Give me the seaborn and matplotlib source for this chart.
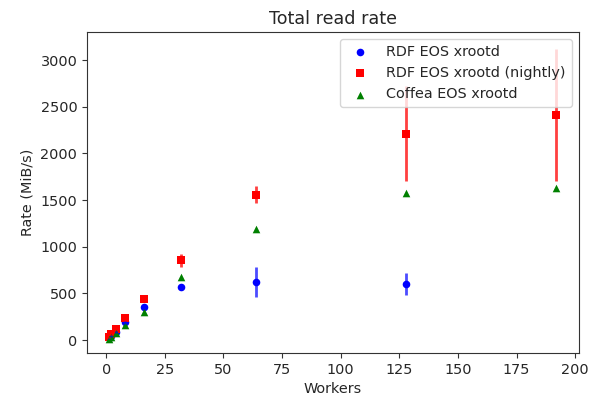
import matplotlib
matplotlib.use("Agg")
import matplotlib.pyplot as plt
import seaborn as sns

workers_rdf = [1, 2, 4, 8, 16, 32, 64, 128]
rate_rdf = [20, 45, 85, 190, 355, 565, 620, 598]
err_rdf = [5, 8, 10, 15, 20, 30, 160, 120]

workers_nightly = [1, 2, 4, 8, 16, 32, 64, 128, 192]
rate_nightly = [32, 60, 117, 234, 436, 855, 1558, 2210, 2412]
err_nightly = [5, 8, 10, 20, 25, 70, 95, 510, 705]

workers_coffea = [1, 2, 4, 8, 16, 32, 64, 128, 192]
rate_coffea = [10, 35, 70, 160, 300, 670, 1185, 1580, 1633]

sns.set_style("ticks")
plt.rcParams['font.family'] = ['DejaVu Sans']
plt.rcParams['font.size'] = 10.4

fig = plt.figure(figsize=(6.16, 3.99), dpi=100)
ax = fig.add_axes([0.1412, 0.1153, 0.7987, 0.8045])

ax.errorbar(workers_rdf, rate_rdf, yerr=err_rdf, fmt='none', ecolor='blue', alpha=0.7, elinewidth=2)
ax.errorbar(workers_nightly, rate_nightly, yerr=err_nightly, fmt='none', ecolor='red', alpha=0.75, elinewidth=2)

sns.scatterplot(x=workers_rdf, y=rate_rdf, color='blue', marker='o', s=30, linewidth=0, label='RDF EOS xrootd', ax=ax)
sns.scatterplot(x=workers_nightly, y=rate_nightly, color='red', marker='s', s=30, linewidth=0, label='RDF EOS xrootd (nightly)', ax=ax)
sns.scatterplot(x=workers_coffea, y=rate_coffea, color='green', marker='^', s=30, linewidth=0, label='Coffea EOS xrootd', ax=ax)

ax.set_xlim(-8.2, 201.6)
ax.set_ylim(-139, 3300)
ax.set_xticks([0, 25, 50, 75, 100, 125, 150, 175, 200])
ax.set_yticks([0, 500, 1000, 1500, 2000, 2500, 3000])
ax.set_xlabel('Workers', fontsize=10.4)
ax.set_ylabel('Rate (MiB/s)', fontsize=10.4)
ax.set_title('Total read rate', fontsize=12.6)
for sp in ax.spines.values():
    sp.set_color('#333333')
    sp.set_linewidth(0.8)
ax.tick_params(direction='out', length=3.5, width=0.8, colors='#333333', labelsize=10.4, labelcolor='#262626')
ax.legend(loc='upper right', frameon=True, fontsize=10.4)

fig.savefig('out.png', dpi=100)
